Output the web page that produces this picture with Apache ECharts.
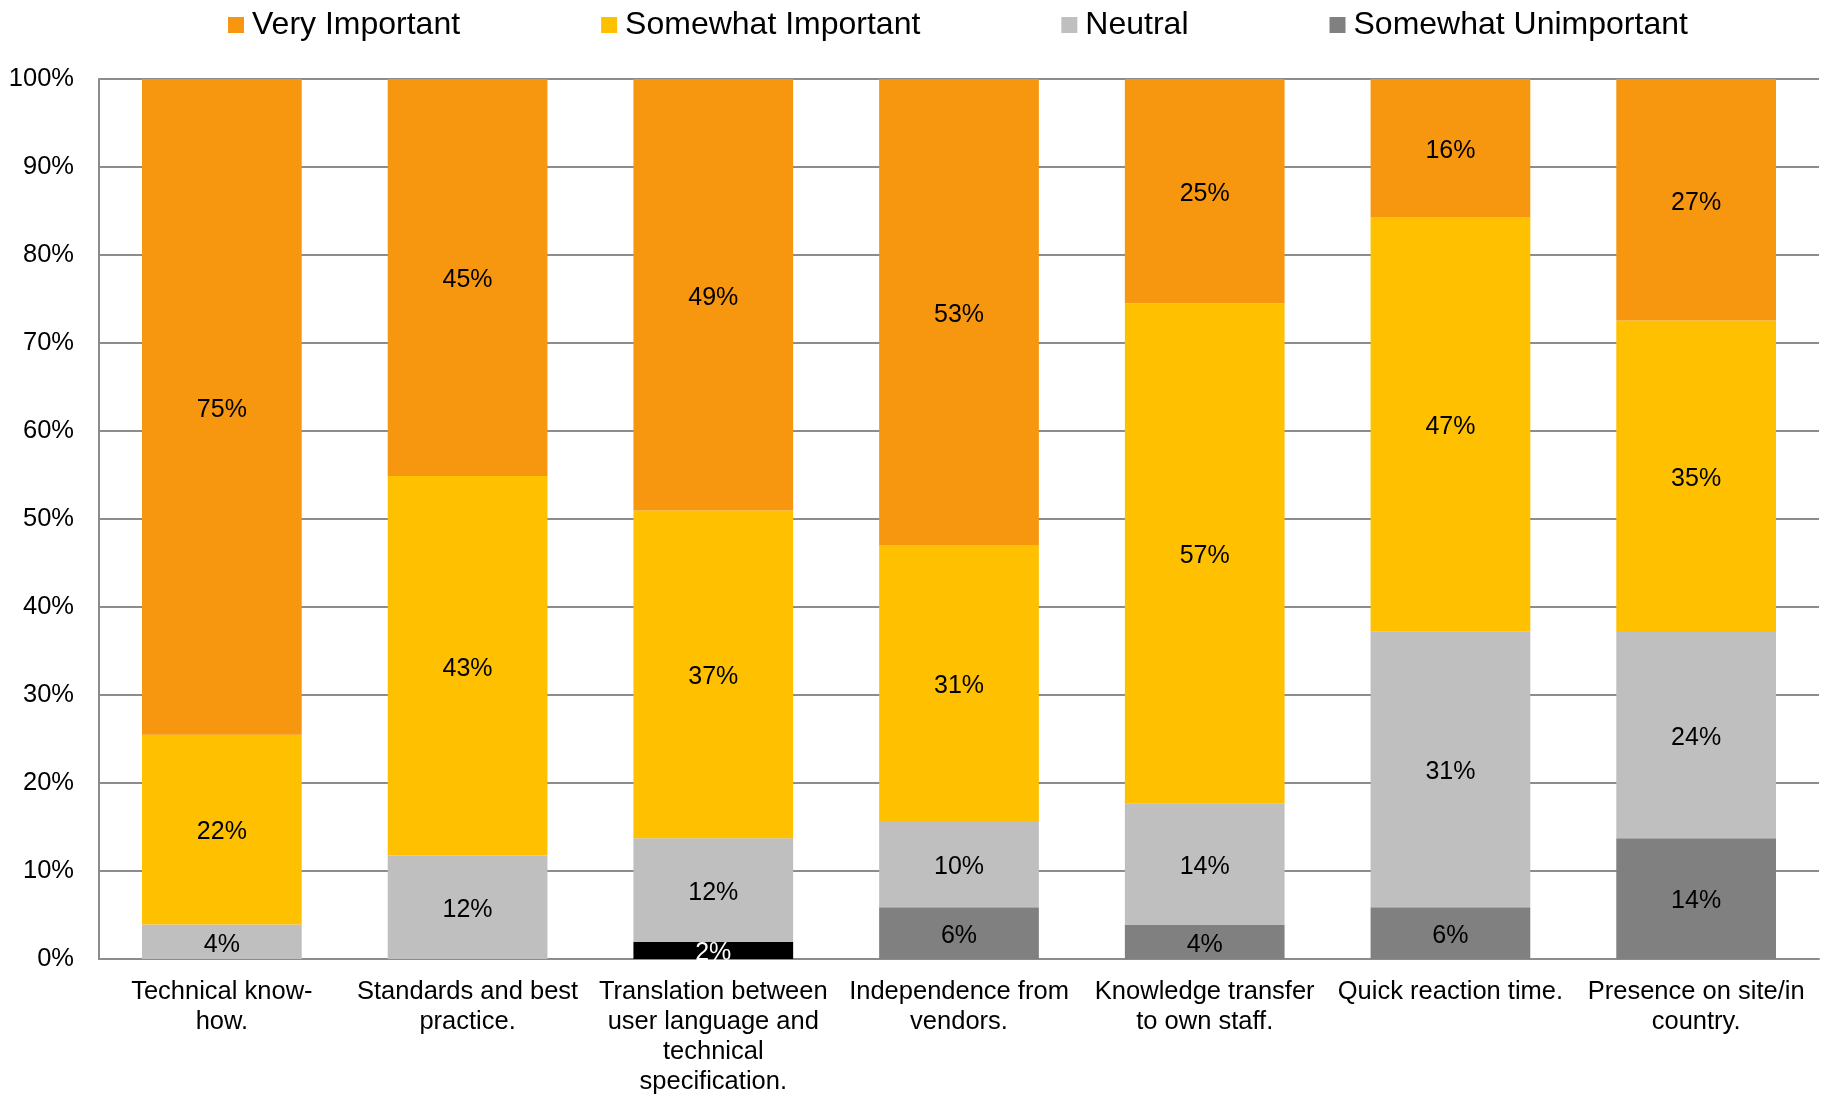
<!DOCTYPE html>
<html>
<head>
<meta charset="utf-8">
<script src="https://cdn.jsdelivr.net/npm/echarts@6/dist/echarts.min.js"></script>
<style>
html,body{margin:0;padding:0;background:#fff;}
#chart{width:1831px;height:1097px;}
</style>
</head>
<body>
<div id="chart"></div>
<script>
const categories = [
  "Technical know-how.",
  "Standards and best practice.",
  "Translation between user language and technical specification.",
  "Independence from vendors.",
  "Knowledge transfer to own staff.",
  "Quick reaction time.",
  "Presence on site/in country."
];
const categoryLines = [
  "Technical know-\nhow.",
  "Standards and best\npractice.",
  "Translation between\nuser language and\ntechnical\nspecification.",
  "Independence from\nvendors.",
  "Knowledge transfer\nto own staff.",
  "Quick reaction time.",
  "Presence on site/in\ncountry."
];
const veryImportant       = [74.51, 45.10, 49.02, 52.94, 25.49, 15.69, 27.45];
const somewhatImportant   = [21.57, 43.14, 37.25, 31.37, 56.86, 47.06, 35.29];
const neutral             = [3.92, 11.76, 11.76, 9.80, 13.73, 31.37, 23.53];
const somewhatUnimportant = [0, 0, 0, 5.88, 3.92, 5.88, 13.73];
const veryUnimportant     = [0, 0, 1.96, 0, 0, 0, 0];
const yTicks = [0, 10, 20, 30, 40, 50, 60, 70, 80, 90, 100];

const FONT = '"Liberation Sans", Arial, sans-serif';
function lab(color) {
  return {
    show: true, position: 'inside', color: color, fontSize: 25, fontFamily: FONT,
    offset: [0, 3],
    formatter: p => p.value > 0 ? Math.round(p.value) + '%' : ''
  };
}
function ser(name, data, color, labelColor) {
  return {
    name: name, type: 'bar', stack: 'total', data: data,
    barCategoryGap: '35%',
    itemStyle: { color: color },
    label: lab(labelColor),
    emphasis: { disabled: true }
  };
}

const chart = echarts.init(document.getElementById('chart'), null, { renderer: 'canvas' });
chart.setOption({
  animation: false,
  backgroundColor: '#ffffff',
  legend: {
    data: ['Very Important', 'Somewhat Important', 'Neutral', 'Somewhat Unimportant'],
    left: 223, top: 4,
    itemWidth: 16, itemHeight: 16, itemGap: 141,
    icon: 'rect',
    textStyle: { fontSize: 32, fontFamily: FONT, color: '#000', padding: [0, 0, 0, 3] }
  },
  grid: { left: 99, right: 12, top: 79, bottom: 135, containLabel: false },
  xAxis: {
    type: 'category',
    data: categories,
    axisLine: { show: true, lineStyle: { color: '#8c8c8c', width: 2 } },
    axisTick: { show: false },
    axisLabel: {
      interval: 0, margin: 18, fontSize: 25.5, fontFamily: FONT, color: '#000', lineHeight: 30,
      formatter: (v, i) => categoryLines[i]
    }
  },
  yAxis: {
    type: 'value', min: 0, max: 100, interval: 10,
    axisLine: { show: true, lineStyle: { color: '#8c8c8c', width: 2 } },
    axisTick: { show: false },
    splitLine: { show: true, lineStyle: { color: '#8c8c8c', width: 2 } },
    axisLabel: {
      margin: 25, fontSize: 25.5, fontFamily: FONT, color: '#000',
      formatter: v => yTicks.includes(v) ? v + '%' : ''
    }
  },
  series: [
    ser('Very Unimportant', veryUnimportant, '#000000', '#ffffff'),
    ser('Somewhat Unimportant', somewhatUnimportant, '#808080', '#000'),
    ser('Neutral', neutral, '#BFBFBF', '#000'),
    ser('Somewhat Important', somewhatImportant, '#FFC000', '#000'),
    ser('Very Important', veryImportant, '#F7960F', '#000')
  ]
});
</script>
</body>
</html>
